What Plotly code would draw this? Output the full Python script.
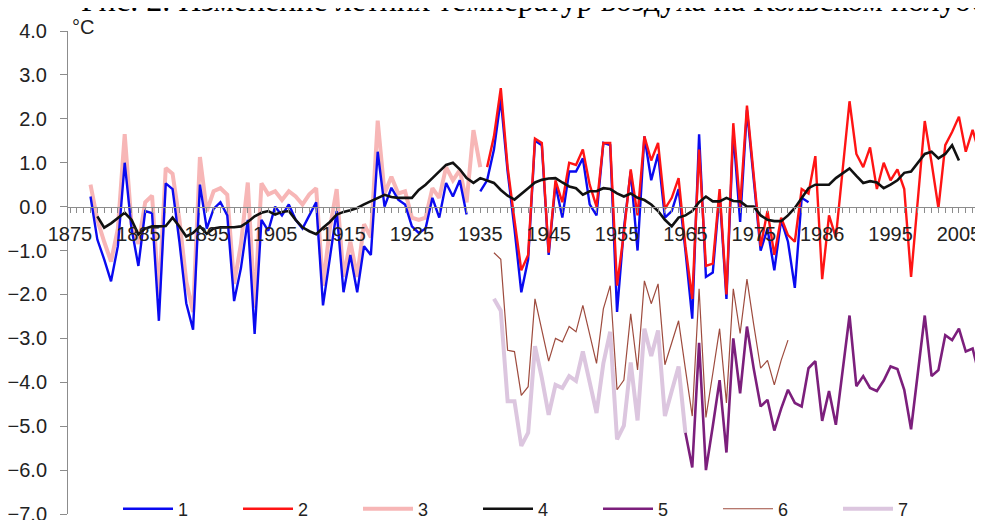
import plotly.graph_objects as go

# ---------------- data ----------------
blue_start = 1878
blue_vals = [0.23, -0.75, -1.2, -1.7, -0.9, 1.0, -0.5, -1.35, -0.1, -0.15,
             -2.6, 0.53, 0.4, -0.8, -2.2, -2.8, 0.5, -0.5, -0.05, 0.1,
             -0.2, -2.15, -1.4, -0.3, -2.9, -0.3, -0.55, 0.0, -0.2, 0.05,
             -0.3, -0.5, -0.2, 0.1, -2.25, -1.2, -0.1, -1.95, -1.1, -1.95,
             -0.9, -1.1, 1.25, 0.0, 0.43, 0.16, 0.05, -0.45, -0.6, -0.5,
             0.2, -0.25, 0.54, 0.23, 0.6, -0.18, None, 0.35, 0.6, 1.3,
             2.45, 0.8, -0.5, -1.95, -1.2, 1.5, 1.4, -1.1, 0.5, -0.25,
             0.8, 0.8, 1.1, 0.05, -0.2, 1.45, 1.4, -2.4, -0.5, 0.8,
             -1.0, 1.6, 0.6, 1.2, -0.25, -0.1, 0.4, -1.0, -2.55, 1.65,
             -1.6, -1.5, 0.3, -2.1, 1.7, -0.35, 2.2, 0.6, -1.0, -0.5,
             -1.45, -0.3, -0.8, -1.85, 0.2, 0.1]

red_start = 1936
red_vals = [0.9, 1.6, 2.7, 0.9, -0.3, -1.45, -1.1, 1.55, 1.45, -1.05,
            0.6, 0.1, 1.0, 0.95, 1.3, 0.5, 0.0, 1.45, 1.45, -1.8,
            -0.6, 0.85, -0.2, 1.6, 1.05, 1.45, -0.05, 0.2, 0.65, -0.9,
            -2.1, 1.3, -1.35, -1.3, 0.4, -2.0, 1.9, 0.0, 2.3, 0.7,
            -0.9, -0.1, -1.1, -0.25, -0.65, -0.8, 0.4, 0.3, 1.15, -1.65,
            -0.2, -0.7, 0.8, 2.4, 1.2, 0.9, 1.35, 0.4, 1.0, 0.6,
            0.85, 0.4, -1.6, 0.2, 1.95, 1.0, -0.03, 1.4, 1.7, 2.05,
            1.25, 1.75, 1.2, 0.75, 0.35]

pink_start = 1878
pink_vals = [0.5, -0.3, -0.8, -1.25, -0.5, 1.65, -0.4, -0.85, 0.1, 0.25,
             -2.05, 0.88, 0.75, -0.3, -1.7, -2.4, 1.13, -0.1, 0.35, 0.42,
             0.27, -1.76, -0.85, 0.55, -2.3, 0.53, 0.28, 0.35, 0.15, 0.35,
             0.23, 0.05, 0.28, 0.42, -1.8, -0.5, 0.4, -1.6, -0.8, -1.6,
             -0.4, -0.7, 1.96, 0.3, 0.68, 0.3, 0.35, -0.25, -0.3, -0.25,
             0.42, 0.2, 0.9, 0.6, 0.83, 0.1, 1.74, 0.9]

black_start = 1879
black_vals = [-0.22, -0.48, -0.38, -0.25, -0.14, -0.3, -0.63, -0.5, -0.45, -0.45,
              -0.44, -0.25, -0.45, -0.68, -0.6, -0.45, -0.62, -0.5, -0.47, -0.47,
              -0.47, -0.45, -0.35, -0.22, -0.14, -0.1, -0.18, -0.12, -0.1, -0.3,
              -0.47, -0.56, -0.63, -0.48, -0.35, -0.18, -0.12, -0.08, -0.03, 0.05,
              0.12, 0.2, 0.27, 0.22, 0.2, 0.2, 0.2, 0.38, 0.5, 0.65,
              0.8, 0.95, 1.0, 0.85, 0.65, 0.54, 0.65, 0.6, 0.54, 0.38,
              0.25, 0.16, 0.3, 0.42, 0.55, 0.61, 0.64, 0.65, 0.55, 0.46,
              0.42, 0.27, 0.35, 0.35, 0.42, 0.4, 0.3, 0.23, 0.3, 0.2,
              0.15, 0.05, -0.1, -0.3, -0.45, -0.25, -0.2, -0.1, 0.1, 0.23,
              0.12, 0.12, 0.2, 0.13, 0.12, 0.0, 0.0, -0.2, -0.3, -0.33,
              -0.33, -0.2, -0.03, 0.2, 0.42, 0.5, 0.5, 0.5, 0.65, 0.75,
              0.87, 0.7, 0.54, 0.58, 0.55, 0.42, 0.5, 0.6, 0.77, 0.8,
              1.0, 1.2, 1.25, 1.1, 1.2, 1.4, 1.05]

purple_start = 1965
purple_vals = [-5.15, -5.94, -3.1, -6.0, -5.0, -3.95, -5.6, -3.0, -4.25, -2.73,
               -3.7, -4.55, -4.4, -5.1, -4.6, -4.17, -4.47, -4.55, -3.68, -3.52,
               -4.88, -4.2, -4.97, -3.7, -2.48, -4.09, -3.86, -4.13, -4.2, -3.96,
               -3.64, -3.7, -4.17, -5.07, -3.8, -2.48, -3.86, -3.72, -2.93, -3.04,
               -2.78, -3.3, -3.23, -3.86, -3.38, -3.43]

brown_start = 1937
brown_vals = [-1.05, -1.2, -3.27, -3.3, -4.3, -4.1, -2.1, -2.8, -3.52, -3.0,
              -3.08, -2.73, -2.85, -2.25, -2.9, -3.57, -2.33, -1.8, -4.17, -3.95,
              -2.44, -3.72, -1.69, -2.21, -1.76, -3.6, -3.1, -2.6, -3.7, -4.77,
              -1.87, -4.8, -3.8, -2.78, -4.47, -1.87, -2.89, -1.65, -2.7, -3.68,
              -3.5, -4.06, -3.5, -3.04]

lav_start = 1937
lav_vals = [-2.1, -2.37, -4.43, -4.43, -5.45, -5.15, -3.18, -3.9, -4.74, -4.06,
            -4.13, -3.86, -3.97, -3.3, -4.0, -4.7, -3.57, -2.85, -5.3, -4.99,
            -3.55, -4.87, -2.78, -3.4, -2.82, -4.77, -4.2, -3.64, -5.15]

tick_years = [1875, 1885, 1895, 1905, 1915, 1925, 1935, 1945, 1955, 1965,
              1975, 1985, 1995, 2005]
tick_text = ["1875", "1885", "1895", "1905", "1915", "1925", "1935", "1945",
             "1955", "1965", "1975", "1986", "1995", "2005"]
y_ticks = [4, 3, 2, 1, 0, -1, -2, -3, -4, -5, -6, -7]

title_text = "Рис. 2. Изменение летних температур воздуха на Кольском полуострове"

# ---------------- layout geometry ----------------
W, H = 983, 520
ML, MR, MT, MB = 60, 0, 23, 10
PW, PH = W - ML - MR, H - MT - MB
PX_PER_YEAR = 6.838
X0 = 1875 - 2 / PX_PER_YEAR
X1 = X0 + PW / PX_PER_YEAR


def yrs(start, vals):
    return list(range(start, start + len(vals)))


def px_x(p):
    return (p - ML) / PW


def px_y(p):
    return (H - MB - p) / PH


series = [
    # name, start, vals, color, width, rank
    ("3", pink_start, pink_vals, "#f7b6b6", 4.0, 3),
    ("7", lav_start, lav_vals, "#dcc6df", 4.0, 7),
    ("1", blue_start, blue_vals, "#0a0af0", 2.4, 1),
    ("2", red_start, red_vals, "#ff1414", 2.4, 2),
    ("6", brown_start, brown_vals, "#9e4b3e", 1.2, 6),
    ("5", purple_start, purple_vals, "#7c1f7c", 2.6, 5),
    ("4", black_start, black_vals, "#111111", 2.6, 4),
]

fig = go.Figure()
for name, start, vals, color, width, rank in series:
    fig.add_trace(go.Scatter(
        x=yrs(start, vals), y=vals, mode="lines", name=name,
        line=dict(color=color, width=width), legendrank=rank,
        connectgaps=False, hoverinfo="skip"))

axis_color = "#8c8c8c"
fig.update_layout(
    width=W, height=H,
    margin=dict(l=ML, r=MR, t=MT, b=MB, pad=0),
    paper_bgcolor="white", plot_bgcolor="white",
    font=dict(family="Liberation Sans, Arial, sans-serif", color="#222222"),
    showlegend=True,
    legend=dict(orientation="h", x=px_x(110), xanchor="left",
                y=px_y(505), yanchor="middle",
                itemwidth=50, entrywidth=55, entrywidthmode="pixels",
                font=dict(size=18, color="#222222"),
                bgcolor="rgba(0,0,0,0)", traceorder="normal"),
    xaxis=dict(range=[X0, X1], anchor="free", position=7 / 11,
               showline=True, linecolor=axis_color, linewidth=1,
               showgrid=False, zeroline=False,
               tickvals=tick_years, ticktext=tick_text,
               ticks="outside", ticklen=5, tickcolor=axis_color,
               minor=dict(dtick=1, tick0=1875, ticks="outside", ticklen=5,
                          tickcolor=axis_color, showgrid=False),
               ticklabelstandoff=4,
               tickfont=dict(size=20, color="#222222")),
    yaxis=dict(range=[-7, 4], showline=True, linecolor=axis_color,
               linewidth=1, showgrid=False, zeroline=False,
               tickvals=y_ticks, tickformat=".1f",
               ticks="outside", ticklen=7, tickcolor=axis_color,
               ticklabelstandoff=9,
               tickfont=dict(size=20, color="#222222")),
)

fig.add_annotation(text="°C", xref="paper", yref="paper",
                   x=px_x(62), y=px_y(19), xanchor="left", yanchor="middle",
                   showarrow=False, font=dict(size=20, color="#222222"))
fig.add_annotation(text=title_text, xref="paper", yref="paper",
                   x=px_x(71), y=px_y(12), xanchor="left", yanchor="bottom",
                   showarrow=False,
                   font=dict(family="Liberation Serif, Times New Roman, serif",
                             size=32, color="#000000"))

fig.write_html("out.html")
